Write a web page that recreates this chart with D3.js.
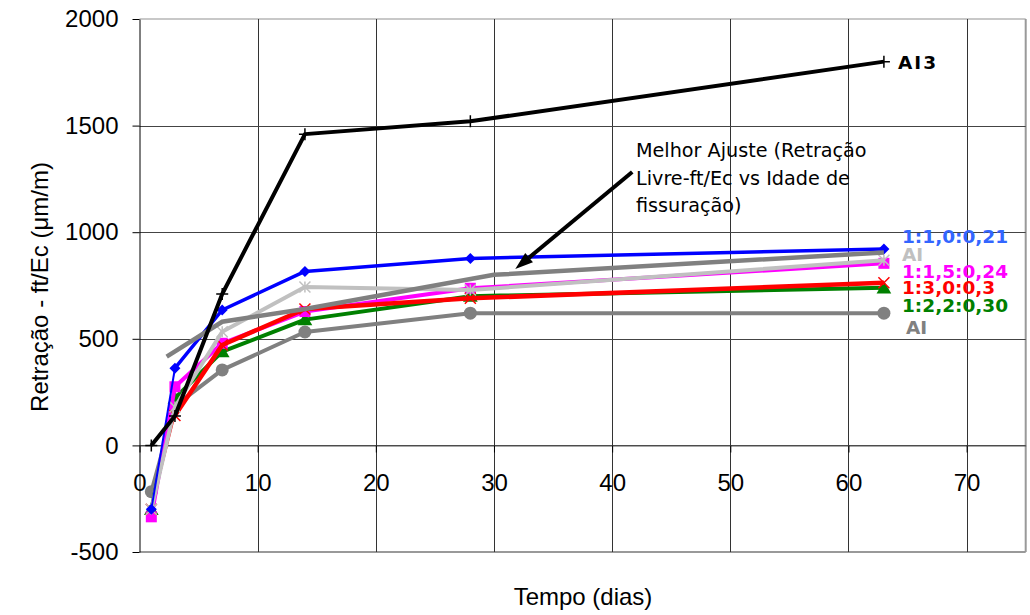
<!DOCTYPE html>
<html><head><meta charset="utf-8">
<script src="https://cdn.jsdelivr.net/npm/d3@7"></script>
<style>
html,body{margin:0;padding:0;background:#fff;}
svg{display:block;}
</style></head>
<body>
<svg id="chart" width="1030" height="615"></svg>
<script>
// ---- data ----
const days = [1, 3, 7, 14, 28, 63];
const ai3 = [0, 138, 710, 1460, 1520, 1800];
const mix_1_1_0_21 = [-300, 362, 635, 816, 877, 921];
const aiLight = [-300, 180, 533, 743, 729, 868];
const mix_1_1_5_24 = [-335, 275, 479, 628, 737, 854];
const mix_1_3_0_3 = [-300, 140, 471, 640, 690, 763];
const mix_1_2_2_30 = [-300, 222, 440, 590, 700, 739];
const aiGray = [-217, 185, 354, 532, 620, 620];
const fitDays = [2.3, 7, 14, 30, 63];
const fitValues = [416, 580, 640, 800, 905];
const xTicks = [0, 10, 20, 30, 40, 50, 60, 70];
const yTicks = [-500, 0, 500, 1000, 1500, 2000];
const fitNote = ["Melhor Ajuste (Retração", "Livre-ft/Ec vs Idade de", "fissuração)"];
const arrowFrom = [41.7, 1282];
const arrowTo = [31.8, 827];

const svg = d3.select("#chart");
const L = 139.5, R = 1025.7, T = 19, B = 552;
const x = d3.scaleLinear().domain([0, 75]).range([L, R]);
const y = d3.scaleLinear().domain([-500, 2000]).range([B, T]);

// plot border
svg.append("line").attr("x1", L).attr("x2", R).attr("y1", T).attr("y2", T).attr("stroke", "#c8c8c8").attr("stroke-width", 2);
svg.append("line").attr("x1", L).attr("x2", R).attr("y1", B).attr("y2", B).attr("stroke", "#999").attr("stroke-width", 2);
svg.append("line").attr("x1", R).attr("x2", R).attr("y1", T).attr("y2", B).attr("stroke", "#999").attr("stroke-width", 2);

// gridlines
const g = svg.append("g");
g.selectAll(".vg").data(xTicks.filter(d => d > 0)).join("line")
  .attr("x1", d => Math.round(x(d)) + 0.5).attr("x2", d => Math.round(x(d)) + 0.5)
  .attr("y1", T).attr("y2", B).attr("stroke", "#333").attr("stroke-width", 1);
g.selectAll(".hg").data(yTicks.filter(d => d > -500 && d < 2000)).join("line")
  .attr("x1", L).attr("x2", R)
  .attr("y1", d => Math.round(y(d)) + 0.5).attr("y2", d => Math.round(y(d)) + 0.5)
  .attr("stroke", "#444").attr("stroke-width", 1);

// axes
const fmt = d => String(d);
const yAxis = svg.append("g").attr("transform", `translate(${L},0)`)
  .call(d3.axisLeft(y).tickValues(yTicks).tickFormat(fmt).tickSize(7).tickPadding(14).tickSizeOuter(0));
const xAxis = svg.append("g").attr("transform", `translate(0,${Math.round(y(0)) + 0.5})`)
  .call(d3.axisBottom(x).tickValues(xTicks).tickFormat(fmt).tickSize(7).tickPadding(21).tickSizeOuter(0));
[yAxis, xAxis].forEach(a => {
  a.selectAll("text").attr("font-family", "Liberation Sans, Arial, sans-serif").attr("font-size", 24).attr("fill", "#000");
  a.selectAll("line").attr("stroke", "#000");
});
xAxis.select(".domain").attr("stroke", "#555");
yAxis.select(".domain").attr("stroke", "#000");

// marker helpers
function marker(sel, type, color, size) {
  const s = size;
  if (type === "diamond") {
    sel.append("path").attr("d", `M0,${-s}L${s},0L0,${s}L${-s},0Z`).attr("fill", color);
  } else if (type === "square") {
    sel.append("rect").attr("x", -s).attr("y", -s).attr("width", 2 * s).attr("height", 2 * s).attr("fill", color);
  } else if (type === "triangle") {
    sel.append("path").attr("d", `M0,${-s}L${s * 1.05},${s * 0.8}L${-s * 1.05},${s * 0.8}Z`).attr("fill", color);
  } else if (type === "circle") {
    sel.append("circle").attr("r", s).attr("fill", color);
  } else if (type === "plus") {
    sel.append("path").attr("d", `M${-s},0H${s}M0,${-s}V${s}`).attr("stroke", color).attr("stroke-width", 1.5).attr("fill", "none");
  } else if (type === "x") {
    sel.append("path").attr("d", `M${-s},${-s}L${s},${s}M${-s},${s}L${s},${-s}`).attr("stroke", color).attr("stroke-width", 1.5).attr("fill", "none");
  } else if (type === "star") {
    sel.append("path").attr("d", `M${-s},${-s}L${s},${s}M${-s},${s}L${s},${-s}M0,${-s}V${s}`).attr("stroke", color).attr("stroke-width", 1.5).attr("fill", "none");
  }
}

const line = d3.line().x(d => x(d[0])).y(d => y(d[1]));

const series = [
  { vals: aiGray, color: "#808080", w: 4, m: "circle", ms: 6.5 },
  { vals: mix_1_2_2_30, color: "#008000", w: 4, m: "triangle", ms: 7 },
  { vals: mix_1_1_5_24, color: "#ff00ff", w: 4, m: "square", ms: 5.5 },
  { vals: mix_1_3_0_3, color: "#ff0000", w: 4.5, m: "x", ms: 5.5, thinFirst: true },
  { vals: aiLight, color: "#c0c0c0", w: 4, m: "star", ms: 5.5 },
  { vals: mix_1_1_0_21, color: "#0000ff", w: 3.5, m: "diamond", ms: 5.5, thinFirst: true }
];

series.forEach(s => {
  const pts = days.map((d, i) => [d, s.vals[i]]);
  const gg = svg.append("g");
  if (s.thinFirst) {
    gg.append("path").attr("d", line(pts.slice(0, 2))).attr("stroke", s.color).attr("stroke-width", s.color === "#ff0000" ? 1.2 : 2).attr("fill", "none");
    gg.append("path").attr("d", line(pts.slice(1))).attr("stroke", s.color).attr("stroke-width", s.w).attr("fill", "none").attr("stroke-linejoin", "round");
  } else {
    gg.append("path").attr("d", line(pts)).attr("stroke", s.color).attr("stroke-width", s.w).attr("fill", "none").attr("stroke-linejoin", "round");
  }
  pts.forEach(p => {
    const mg = gg.append("g").attr("transform", `translate(${x(p[0])},${y(p[1])})`);
    marker(mg, s.m, s.color, s.ms);
  });
});

// best fit line
svg.append("path").attr("d", line(fitDays.map((d, i) => [d, fitValues[i]])))
  .attr("stroke", "#808080").attr("stroke-width", 4.5).attr("fill", "none");

// AI3 black
const aiPts = days.map((d, i) => [d, ai3[i]]);
svg.append("path").attr("d", line(aiPts)).attr("stroke", "#000").attr("stroke-width", 4).attr("fill", "none").attr("stroke-linejoin", "round");
aiPts.forEach(p => {
  const mg = svg.append("g").attr("transform", `translate(${x(p[0])},${y(p[1])})`);
  marker(mg, "plus", "#000", 6);
});

// arrow annotation
const ax1 = x(arrowFrom[0]), ay1 = y(arrowFrom[1]), ax2 = x(arrowTo[0]), ay2 = y(arrowTo[1]);
const ang = Math.atan2(ay2 - ay1, ax2 - ax1);
const hl = 18, hw = 6;
const bx = ax2 - hl * Math.cos(ang), by = ay2 - hl * Math.sin(ang);
svg.append("line").attr("x1", ax1).attr("y1", ay1).attr("x2", bx).attr("y2", by).attr("stroke", "#000").attr("stroke-width", 4);
svg.append("path").attr("d", `M${ax2},${ay2}L${bx - hw * Math.sin(ang)},${by + hw * Math.cos(ang)}L${bx + hw * Math.sin(ang)},${by - hw * Math.cos(ang)}Z`).attr("fill", "#000");

svg.append("text").attr("font-family", "DejaVu Sans, Verdana, sans-serif").attr("font-size", 19.2).attr("fill", "#000")
  .selectAll("tspan").data(fitNote).join("tspan")
  .attr("x", 636).attr("y", (d, i) => 157 + i * 27.5).text(d => d);

// series labels
const labels = [
  { t: "AI3", c: "#000", x: 898, y: 62, ls: 2 },
  { t: "1:1,0:0,21", c: "#3366ff", x: 902, y: 236.5 },
  { t: "AI", c: "#c0c0c0", x: 902, y: 254 },
  { t: "1:1,5:0,24", c: "#ff00ff", x: 902, y: 271 },
  { t: "1:3,0:0,3", c: "#ff0000", x: 902, y: 287 },
  { t: "1:2,2:0,30", c: "#008000", x: 902, y: 305.5 },
  { t: "AI", c: "#808080", x: 906, y: 327 }
];
svg.selectAll(".lab").data(labels).join("text")
  .attr("x", d => d.x).attr("y", d => d.y).attr("dy", "0.36em")
  .attr("font-family", "DejaVu Sans, Verdana, sans-serif").attr("font-weight", "bold").attr("font-size", 18.5)
  .attr("letter-spacing", d => d.ls || 0)
  .attr("fill", d => d.c).text(d => d.t);

// axis titles
svg.append("text").attr("transform", "translate(40,287) rotate(-90)").attr("text-anchor", "middle").attr("dy", "0.35em")
  .attr("font-family", "Liberation Sans, Arial, sans-serif").attr("font-size", 24).text("Retração - ft/Ec (μm/m)");
svg.append("text").attr("x", 583).attr("y", 597).attr("text-anchor", "middle").attr("dy", "0.35em")
  .attr("font-family", "Liberation Sans, Arial, sans-serif").attr("font-size", 24).text("Tempo (dias)");
</script>
</body></html>
